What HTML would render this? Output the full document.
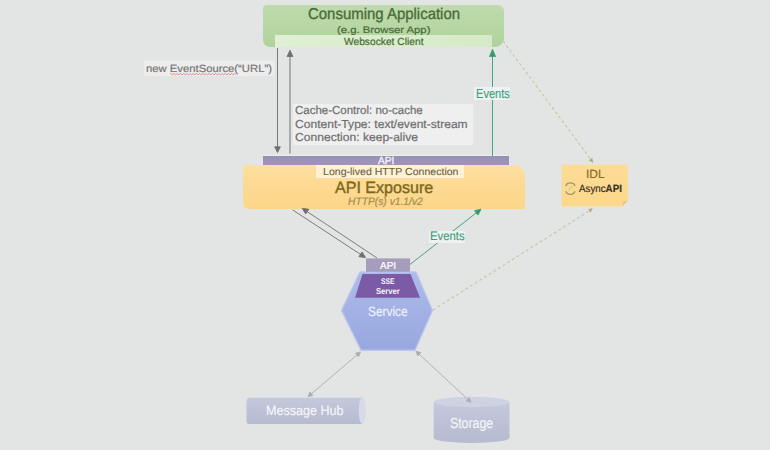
<!DOCTYPE html>
<html><head><meta charset="utf-8">
<style>
html,body{margin:0;padding:0;}
body{width:770px;height:450px;overflow:hidden;background:#e3e5e4;position:relative;font-family:"Liberation Sans",sans-serif;}
.a{position:absolute;}
.t{position:absolute;white-space:nowrap;line-height:1;transform-origin:0 0;text-rendering:geometricPrecision;}
</style></head><body>

<!-- Consuming application -->
<div class="a" style="left:263px;top:5px;width:241px;height:42px;background:linear-gradient(#bedbac,#afd39b);border-radius:4px 6px 9px 7px;"></div>
<div class="a" style="left:275px;top:35px;width:217px;height:12px;background:linear-gradient(90deg,#dff0d4,#d6eac7);"></div>

<!-- new EventSource -->
<div class="a" style="left:144px;top:61px;width:130px;height:15px;background:#ededed;"></div>

<!-- headers box -->
<div class="a" style="left:293px;top:104px;width:180px;height:41px;background:#efefef;"></div>

<!-- API bar -->
<div class="a" style="left:263px;top:155.8px;width:246px;height:9.2px;background:linear-gradient(#9591b1,#a393b9);box-shadow:0 -1px 0 rgba(245,245,250,0.6);"></div>

<!-- API Exposure -->
<div class="a" style="left:242.5px;top:165px;width:282.5px;height:43.7px;background:linear-gradient(#fddf9f,#fcd588);border-radius:4px 12px 1px 6px;"></div>
<div class="a" style="left:316px;top:165px;width:148px;height:12.5px;background:#fdf2d8;"></div>



<svg class="a" style="left:0;top:0" width="770" height="450">
  <defs>
    <linearGradient id="hex" x1="0" y1="0" x2="0" y2="1">
      <stop offset="0" stop-color="#aebaea"/><stop offset="1" stop-color="#97a8df"/>
    </linearGradient>
  </defs>
  <polygon points="360,272 416,272 432.5,310.5 415,350.2 361,350.2 341.5,310.5" fill="url(#hex)" stroke="#bcc5ef" stroke-width="1.4" stroke-linejoin="round"/>
  <polygon points="362.5,274 410.5,274 420,297.8 355,297.8" fill="#7c5ba6"/>
  <rect x="366" y="258.4" width="44" height="13.4" fill="#a69dbd"/>

  <g stroke="#777777" stroke-width="1" fill="#6e6e6e">
    <line x1="277.5" y1="48" x2="277.5" y2="148"/>
    <polygon points="274.7,146.8 280.3,146.8 277.5,152.5"/>
    <line x1="290" y1="55" x2="290" y2="153.5" stroke="#858585" stroke-width="1.2"/>
    <polygon points="287.1,56.5 292.9,56.5 290,50.3"/>
    <line x1="292.5" y1="209.8" x2="361.32" y2="254.86" stroke="#7c7c7c"/>
    <polygon points="365.50,257.60 358.95,256.66 362.01,251.97"/>
    <line x1="377" y1="258" x2="306.36" y2="211.07" stroke="#7c7c7c"/>
    <polygon points="302.20,208.30 308.75,209.29 305.65,213.95"/>
  </g>
  <g stroke="#45a57f" stroke-width="1" fill="#2e9a6c">
    <line x1="492.5" y1="55" x2="492.5" y2="156"/>
    <polygon points="489.5,56.5 495.5,56.5 492.5,49.3"/>
    <line x1="410" y1="264.4" x2="477.05" y2="212.27"/>
    <polygon points="481.00,209.20 477.98,215.09 474.54,210.67"/>
  </g>
  <g stroke="#cbc5a9" stroke-width="1.2" stroke-dasharray="3,2.5" fill="none">
    <line x1="503" y1="41" x2="590.5" y2="159"/>
    <line x1="433" y1="310" x2="589" y2="211"/>
  </g>
  <polygon points="593.3,163 588.8,160.4 592.2,157.8" fill="#b3a982"/>
  <polygon points="592.7,208 588.2,209.3 590.6,212.8" fill="#b3a982"/>
  <path d="M170,74.2 q0.8,-1.3 1.6,0 t1.6,0 t1.6,0 t1.6,0 t1.6,0 t1.6,0 t1.6,0 t1.6,0 t1.6,0 t1.6,0 t1.6,0 t1.6,0 t1.6,0 t1.6,0 t1.6,0 t1.6,0 t1.6,0 t1.6,0 t1.6,0 t1.6,0 t1.6,0 t1.6,0 t1.6,0 t1.6,0 t1.6,0 t1.6,0 t1.6,0 t1.6,0 t1.6,0 t1.6,0 t1.6,0 t1.6,0 t1.6,0 t1.6,0 t1.6,0 t1.6,0 t1.6,0 t1.6,0 t1.6,0 t1.6,0 t1.6,0" fill="none" stroke="#e08484" stroke-width="1"/>

  <!-- IDL box with dog-ear -->
  <linearGradient id="idl" x1="0" y1="0" x2="0" y2="1"><stop offset="0" stop-color="#fddc98"/><stop offset="1" stop-color="#fcd88b"/></linearGradient>
  <path d="M561.6,164.6 H628 V200.5 L622,206.6 H561.6 Z" fill="url(#idl)"/>
  <path d="M628,200.5 L622,206.6 L623.5,201.5 Z" fill="#e6c47a"/>
  <!-- AsyncAPI icon -->
  <g fill="none" stroke="#9d9470" stroke-width="1.3" stroke-linecap="round">
    <path d="M566,185.6 A4.5,3.4 0 0 1 574.8,185.6"/>
    <path d="M566,191.6 A4.5,3.4 0 0 0 574.8,191.6"/>
  </g>
  <path d="M568,190.5 L572.5,186.5" stroke="#d9d49a" stroke-width="1.8" fill="none"/>
  <!-- message hub -->
  <linearGradient id="cyl" x1="0" y1="0" x2="0" y2="1"><stop offset="0" stop-color="#c5c9dd"/><stop offset="0.5" stop-color="#bcc1d5"/><stop offset="1" stop-color="#b6bbcf"/></linearGradient>
  <path d="M249,397.8 H362.5 V423.9 H249 Q246.5,423.9 246.5,420 V401.7 Q246.5,397.8 249,397.8 Z" fill="url(#cyl)"/>
  <ellipse cx="362.3" cy="410.85" rx="3.6" ry="13.05" fill="#d8dbe7"/>
  <!-- storage -->
  <path d="M433.7,402 V438 A37.9,5 0 0 0 509.5,438 V402 Z" fill="url(#cyl)"/>
  <ellipse cx="471.6" cy="402" rx="37.9" ry="5.2" fill="#ced2e3"/>
  <!-- double arrows -->
  <g stroke="#b4b4b4" stroke-width="1" fill="#aaaaaa">
    <line x1="310.66" y1="394.43" x2="357.84" y2="354.27"/>
    <polygon points="308.00,396.70 309.94,392.03 312.92,395.53"/>
    <polygon points="360.50,352.00 358.56,356.67 355.58,353.17"/>
    <line x1="418.57" y1="353.68" x2="468.43" y2="399.92"/>
    <polygon points="416.00,351.30 420.86,352.67 417.74,356.05"/>
    <polygon points="471.00,402.30 466.14,400.93 469.26,397.55"/>
  </g>
</svg>

<!-- label bgs -->
<div class="a" style="left:474px;top:87px;width:36px;height:13px;background:rgba(239,243,241,0.92);"></div>
<div class="a" style="left:429px;top:230.5px;width:36px;height:12.5px;background:rgba(239,243,241,0.92);"></div>

<div id="t1" class="t" style="left:307.50px;top:7.10px;font-size:15.698px;color:#4a6b39;transform:scaleX(0.9529);-webkit-text-stroke:0.35px #4a6b39;">Consuming Application</div>
<div id="t2" class="t" style="left:337.00px;top:26.24px;font-size:9.593px;color:#4a6b39;transform:scaleX(1.1775);-webkit-text-stroke:0.2px #4a6b39;">(e.g. Browser App)</div>
<div id="t3" class="t" style="left:344.00px;top:38.24px;font-size:10.320px;color:#4a6b39;transform:scaleX(0.9929);-webkit-text-stroke:0.2px #4a6b39;">Websocket Client</div>
<div id="t4" class="t" style="left:146.40px;top:64.52px;font-size:10.465px;color:#767676;transform:scaleX(1.0784);-webkit-text-stroke:0.2px #767676;">new EventSource(“URL”)</div>
<div id="t5" class="t" style="left:294.80px;top:105.14px;font-size:11.628px;color:#6e6e6e;transform:scaleX(0.9891);-webkit-text-stroke:0.2px #6e6e6e;">Cache-Control: no-cache</div>
<div id="t6" class="t" style="left:294.80px;top:118.54px;font-size:11.628px;color:#6e6e6e;transform:scaleX(1.0414);-webkit-text-stroke:0.2px #6e6e6e;">Content-Type: text/event-stream</div>
<div id="t7" class="t" style="left:294.80px;top:132.14px;font-size:11.628px;color:#6e6e6e;transform:scaleX(1.0414);-webkit-text-stroke:0.2px #6e6e6e;">Connection: keep-alive</div>
<div id="t8" class="t" style="left:475.95px;top:86.92px;font-size:13.082px;color:#3f9f7d;transform:scaleX(0.8468);-webkit-text-stroke:0.15px #3f9f7d;">Events</div>
<div id="t9" class="t" style="left:378.30px;top:157.24px;font-size:10.320px;color:#f6f4fa;transform:scaleX(0.9787);-webkit-text-stroke:0.35px #f6f4fa;">API</div>
<div id="t10" class="t" style="left:322.70px;top:167.89px;font-size:10.175px;color:#6c6137;transform:scaleX(1.0404);-webkit-text-stroke:0.1px #6c6137;">Long-lived HTTP Connection</div>
<div id="t11" class="t" style="left:334.60px;top:179.67px;font-size:16.425px;color:#7a691b;transform:scaleX(0.9792);-webkit-text-stroke:0.4px #7a691b;">API Exposure</div>
<div id="t12" class="t" style="left:348.00px;top:196.93px;font-size:10.901px;color:#a48c4e;font-style:italic;transform:scaleX(0.9430);-webkit-text-stroke:0.2px #a48c4e;">HTTP(s) v1.1/v2</div>
<div id="t13" class="t" style="left:585.99px;top:168.95px;font-size:11.919px;color:#84711f;transform:scaleX(1.0052);-webkit-text-stroke:0.2px #84711f;">IDL</div>
<div id="t14" class="t" style="left:579.00px;top:184.92px;font-size:10.465px;color:#3b3222;transform:scaleX(0.9351);-webkit-text-stroke:0.2px #3b3222;">Async<b>API</b></div>
<div id="t15" class="t" style="left:380.40px;top:261.91px;font-size:10.029px;color:#ffffff;transform:scaleX(0.9960);-webkit-text-stroke:0.2px #ffffff;">API</div>
<div id="t16" class="t" style="left:381.10px;top:277.75px;font-size:8.285px;color:#f8f4fc;font-weight:bold;transform:scaleX(0.8164);">SSE</div>
<div id="t17" class="t" style="left:375.90px;top:287.04px;font-size:8.576px;color:#f8f4fc;font-weight:bold;transform:scaleX(0.8892);">Server</div>
<div id="t18" class="t" style="left:368.00px;top:304.85px;font-size:13.372px;color:#eef1fc;transform:scaleX(0.8908);-webkit-text-stroke:0.2px #eef1fc;">Service</div>
<div id="t19" class="t" style="left:430.47px;top:230.06px;font-size:12.210px;color:#3f9f7d;transform:scaleX(0.9263);-webkit-text-stroke:0.15px #3f9f7d;">Events</div>
<div id="t20" class="t" style="left:266.07px;top:403.85px;font-size:13.518px;color:#f4f5f9;transform:scaleX(0.9293);-webkit-text-stroke:0.2px #f4f5f9;">Message Hub</div>
<div id="t21" class="t" style="left:450.00px;top:416.68px;font-size:14.535px;color:#f4f5f9;transform:scaleX(0.8470);-webkit-text-stroke:0.2px #f4f5f9;">Storage</div>
</body></html>
